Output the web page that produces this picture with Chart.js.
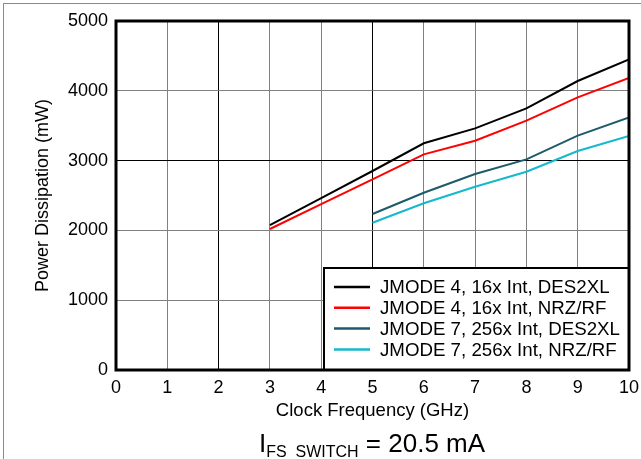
<!DOCTYPE html>
<html>
<head>
<meta charset="utf-8">
<script src="https://cdn.jsdelivr.net/npm/chart.js@4"></script>
<style>
  body { margin: 0; background: #fff; overflow: hidden; }
  #wrap { position: relative; width: 641px; height: 459px; }
  #frame { position: absolute; left: 3px; top: 3px; width: 640px; height: 460px;
           border-left: 1px solid #8a8a8a; border-top: 1px solid #8a8a8a; pointer-events: none; }
  #cond { position: absolute; left: 172px; top: 430px; width: 400px; text-align: center;
          font-family: "Liberation Sans", Arial, sans-serif; font-size: 26px; line-height: 26px; color: #000; }
  #cond sub { font-size: 16px; vertical-align: baseline; position: relative; top: 5px; }
</style>
</head>
<body>
<div id="wrap">
  <canvas id="powerChart" width="641" height="459"></canvas>
  <div id="frame"></div>
  <div id="cond">I<sub>FS_SWITCH</sub> = 20.5 mA</div>
</div>
<script>
// Clock frequency points (GHz)
const freqJmode4 = [3, 4, 5, 6, 7, 8, 9, 10];
const freqJmode7 = [5, 6, 7, 8, 9, 10];

// Power dissipation (mW)
const jmode4Des2xl = [2077, 2464, 2851, 3248, 3462, 3749, 4140, 4451];
const jmode4NrzRf  = [2020, 2376, 2732, 3090, 3285, 3572, 3906, 4183];
const jmode7Des2xl = [2235, 2540, 2808, 3018, 3357, 3620];
const jmode7NrzRf  = [2110, 2388, 2626, 2841, 3138, 3352];

const seriesNames = [
  'JMODE 4, 16x Int, DES2XL',
  'JMODE 4, 16x Int, NRZ/RF',
  'JMODE 7, 256x Int, DES2XL',
  'JMODE 7, 256x Int, NRZ/RF'
];

const font = 'Liberation Sans, Arial, sans-serif';

function toPoints(xs, ys) {
  return xs.map((x, i) => ({ x: x, y: ys[i] }));
}

function makeSet(label, xs, ys, color) {
  return {
    label: label,
    data: toPoints(xs, ys),
    borderColor: color,
    backgroundColor: color,
    borderWidth: 2,
    pointRadius: 0,
    tension: 0,
    fill: false
  };
}

// Heavy frame round the plot area plus the boxed legend in the lower right
const framePlugin = {
  id: 'frameAndLegend',
  afterDatasetsDraw(chart) {
    const ctx = chart.ctx;
    const a = chart.chartArea;
    ctx.save();

    // legend box
    const boxW = 305, boxH = 102;
    const bx = a.right - boxW, by = a.bottom - boxH;
    ctx.fillStyle = '#fff';
    ctx.fillRect(bx, by, boxW, boxH);
    ctx.strokeStyle = '#000';
    ctx.lineWidth = 2;
    ctx.strokeRect(bx, by, boxW, boxH);

    ctx.font = '18.7px ' + font;
    ctx.textBaseline = 'middle';
    ctx.textAlign = 'left';
    chart.data.datasets.forEach((ds, i) => {
      const y = by + 19 + i * 20.8;
      ctx.strokeStyle = ds.borderColor;
      ctx.lineWidth = 2.5;
      ctx.beginPath();
      ctx.moveTo(bx + 10, y);
      ctx.lineTo(bx + 46, y);
      ctx.stroke();
      ctx.fillStyle = '#000';
      ctx.fillText(ds.label, bx + 56, y + 1);
    });

    // plot frame
    ctx.strokeStyle = '#000';
    ctx.lineWidth = 3;
    ctx.strokeRect(a.left, a.top, a.right - a.left, a.bottom - a.top);
    ctx.restore();
  }
};

const blackX = [2, 5];
const blackY = [3000];

new Chart(document.getElementById('powerChart'), {
  type: 'line',
  data: {
    datasets: [
      makeSet(seriesNames[0], freqJmode4, jmode4Des2xl, '#000000'),
      makeSet(seriesNames[1], freqJmode4, jmode4NrzRf, '#ff0000'),
      makeSet(seriesNames[2], freqJmode7, jmode7Des2xl, '#1d5a6a'),
      makeSet(seriesNames[3], freqJmode7, jmode7NrzRf, '#14b9cc')
    ]
  },
  options: {
    responsive: false,
    animation: false,
    layout: { padding: { left: 0, top: 21, right: 12, bottom: 0 } },
    plugins: {
      legend: { display: false },
      tooltip: { enabled: false }
    },
    scales: {
      x: {
        type: 'linear',
        min: 0,
        max: 10,
        afterFit(scale) {
          scale.height = 89;
          scale.paddingLeft = 0;
          scale.paddingRight = 0;
        },
        ticks: { stepSize: 1, padding: 7, color: '#000', font: { family: font, size: 18 } },
        grid: {
          drawTicks: false,
          lineWidth: 1,
          color: (c) => blackX.includes(c.tick.value) ? '#000' : '#808080'
        },
        border: { display: false },
        title: {
          display: true,
          text: 'Clock Frequency (GHz)',
          color: '#000',
          font: { family: font, size: 18.5 },
          padding: { top: 0, bottom: 37 }
        }
      },
      y: {
        min: 0,
        max: 5000,
        afterFit(scale) {
          scale.width = 116;
          scale.paddingTop = 0;
          scale.paddingBottom = 0;
        },
        ticks: {
          stepSize: 1000,
          padding: 8,
          color: '#000',
          font: { family: font, size: 18 },
          callback: (v) => String(v)
        },
        grid: {
          drawTicks: false,
          lineWidth: 1,
          color: (c) => blackY.includes(c.tick.value) ? '#000' : '#808080'
        },
        border: { display: false },
        title: {
          display: true,
          text: 'Power Dissipation (mW)',
          color: '#000',
          font: { family: font, size: 18 },
          padding: { top: 32, bottom: 0 }
        }
      }
    }
  },
  plugins: [framePlugin]
});
</script>
</body>
</html>
